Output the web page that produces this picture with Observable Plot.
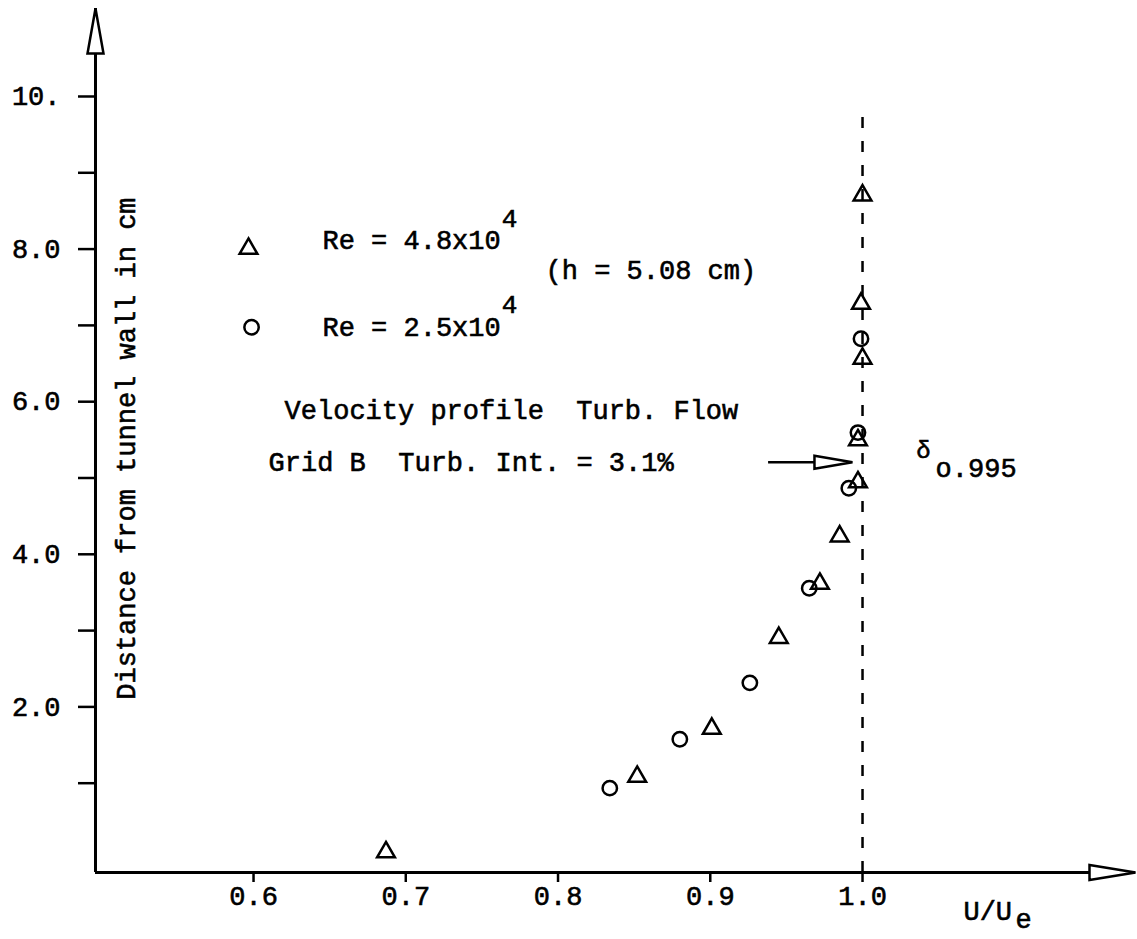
<!DOCTYPE html>
<html><head><meta charset="utf-8">
<script src="https://cdn.jsdelivr.net/npm/d3@7"></script>
<script src="https://cdn.jsdelivr.net/npm/@observablehq/plot@0.6"></script>
<style>body{margin:0;background:#fff;}</style>
</head><body><div id="chart"></div>
<script>
// Re = 4.8x10^4 (triangles)
const triU = [0.687, 0.852, 0.901, 0.945, 0.972, 0.985, 0.997, 0.997, 1.000, 0.999, 1.000];
const triY = [0.20, 1.19, 1.82, 3.01, 3.72, 4.34, 5.05, 5.60, 6.67, 7.39, 8.81];
// Re = 2.5x10^4 (circles)
const cirU = [0.834, 0.880, 0.926, 0.965, 0.991, 0.997, 0.999];
const cirY = [1.04, 1.68, 2.42, 3.66, 4.97, 5.70, 6.93];

const xTicks = [0.6, 0.7, 0.8, 0.9, 1.0];
const xTickLabels = ["0.6", "0.7", "0.8", "0.9", "1.0"];
const yTicks = [1, 2, 3, 4, 5, 6, 7, 8, 9, 10];
const yTickLabels = ["", "2.0", "", "4.0", "", "6.0", "", "8.0", "", "10."];

const deltaU = 1.0;      // reference line U/Ue = 1.0
const deltaTop = 10.0;
const arrowY = 5.31;     // delta 0.995 arrow level

const X_DOMAIN = [0.4962, 1.1793];
const Y_DOMAIN = [-0.0655, 11.258];

const tri = triU.map((u, i) => ({u, y: triY[i]}));
const cir = cirU.map((u, i) => ({u, y: cirY[i]}));

const FONT = "Liberation Mono, Courier New, monospace";
const FS = 27;

// open arrowheads as custom symbols (tip at origin)
const headUp = {draw(c) { c.moveTo(0, 0); c.lineTo(-8, 45); c.lineTo(8, 45); c.closePath(); }};
const headRight = {draw(c) { c.moveTo(0, 0); c.lineTo(-46, -7.5); c.lineTo(-46, 7.5); c.closePath(); }};
const headSmall = {draw(c) { c.moveTo(0, 0); c.lineTo(-38, -6.5); c.lineTo(-38, 6.5); c.closePath(); }};

const texts = [
  {x: 0.6453, y: 8.22, t: "Re = 4.8x10"},
  {x: 0.7918, y: 7.82, t: "(h = 5.08 cm)"},
  {x: 0.6453, y: 7.08, t: "Re = 2.5x10"},
  {x: 0.6204, y: 5.99, t: "Velocity profile  Turb. Flow"},
  {x: 0.6099, y: 5.31, t: "Grid B  Turb. Int. = 3.1%"},
  {x: 1.048, y: 5.23, t: "o.995"},
  {x: 1.0663, y: -0.58, t: "U/U"}
];
const subE = {x: 1.1005, y: -0.68, t: "e"};
const sups = [
  {x: 0.7630, y: 8.50, t: "4"},
  {x: 0.7630, y: 7.37, t: "4"}
];

const chart = Plot.plot({
  width: 1137,
  height: 939,
  marginLeft: 95,
  marginRight: 2,
  marginTop: 8,
  marginBottom: 67,
  x: {domain: X_DOMAIN},
  y: {domain: Y_DOMAIN},
  style: {fontFamily: FONT, fontSize: "26px", color: "black", background: "white"},
  marks: [
    Plot.axisX({ticks: xTicks, tickFormat: (d) => xTickLabels[xTicks.indexOf(d)], tickSize: 10, tickPadding: 3, strokeWidth: 2.5, label: null, fontSize: 27, fontFamily: FONT}),
    Plot.axisY({ticks: yTicks, tickFormat: (d) => yTickLabels[yTicks.indexOf(d)], tickSize: 17, tickPadding: 18, dy: -8, strokeWidth: 2.5, label: null, fontSize: 27, fontFamily: FONT}),
    // axes lines
    Plot.ruleY([Y_DOMAIN[0]], {x1: X_DOMAIN[0], x2: X_DOMAIN[1], strokeWidth: 3}),
    Plot.ruleX([X_DOMAIN[0]], {y1: Y_DOMAIN[0], y2: Y_DOMAIN[1], strokeWidth: 3}),
    Plot.dot([{x: X_DOMAIN[0], y: Y_DOMAIN[1]}], {x: "x", y: "y", symbol: headUp, r: 5, fill: "white", stroke: "black", strokeWidth: 2.5}),
    Plot.dot([{x: X_DOMAIN[1], y: Y_DOMAIN[0]}], {x: "x", y: "y", symbol: headRight, r: 5, fill: "white", stroke: "black", strokeWidth: 2.5}),
    // dashed line at U/Ue = 1
    Plot.ruleX([deltaU], {y1: Y_DOMAIN[0], y2: deltaTop, strokeWidth: 2.5, strokeDasharray: "11,13"}),
    // delta arrow
    Plot.ruleY([arrowY], {x1: 0.9383, x2: 0.975, strokeWidth: 2.5}),
    Plot.dot([{x: 0.9934, y: arrowY}], {x: "x", y: "y", symbol: headSmall, r: 5, fill: "white", stroke: "black", strokeWidth: 2.5}),
    // data
    Plot.dot(tri, {x: "u", y: "y", symbol: "triangle", r: 6.6, stroke: "black", fill: "none", strokeWidth: 2.5}),
    Plot.dot(cir, {x: "u", y: "y", symbol: "circle", r: 7.2, stroke: "black", fill: "none", strokeWidth: 2.5}),
    // legend symbols
    Plot.dot([{x: 0.5967, y: 8.11}], {x: "x", y: "y", symbol: "triangle", r: 6.6, stroke: "black", fill: "none", strokeWidth: 2.5}),
    Plot.dot([{x: 0.5987, y: 7.08}], {x: "x", y: "y", symbol: "circle", r: 7.2, stroke: "black", fill: "none", strokeWidth: 2.5}),
    // texts
    Plot.text(texts, {x: "x", y: "y", text: "t", textAnchor: "start", fontSize: FS, fontFamily: FONT, fill: "black"}),
    Plot.text([subE], {x: "x", y: "y", text: "t", textAnchor: "start", fontSize: FS, fontFamily: FONT, fill: "black"}),
    Plot.text(sups, {x: "x", y: "y", text: "t", textAnchor: "start", fontSize: 26, fontFamily: FONT, fill: "black"}),
    Plot.text([{x: 1.040, y: 5.47}], {x: "x", y: "y", text: () => "δ", textAnchor: "middle", fontSize: 24, fontFamily: FONT, fill: "black"}),
    Plot.text([{x: 0.5166, y: 5.49}], {x: "x", y: "y", text: () => "Distance from tunnel wall in cm", rotate: -90, textAnchor: "middle", fontSize: FS, fontFamily: FONT, fill: "black"})
  ]
});
// typewriter ink: slightly heavier glyphs; tick labels at the same size as the other texts
d3.select(chart).selectAll("g[aria-label='x-axis tick label'], g[aria-label='y-axis tick label']").attr("font-size", 27);
d3.select(chart).selectAll("text").attr("stroke", "black").attr("stroke-width", 0.6).style("paint-order", "normal");
document.getElementById("chart").appendChild(chart);
</script>
</body></html>
